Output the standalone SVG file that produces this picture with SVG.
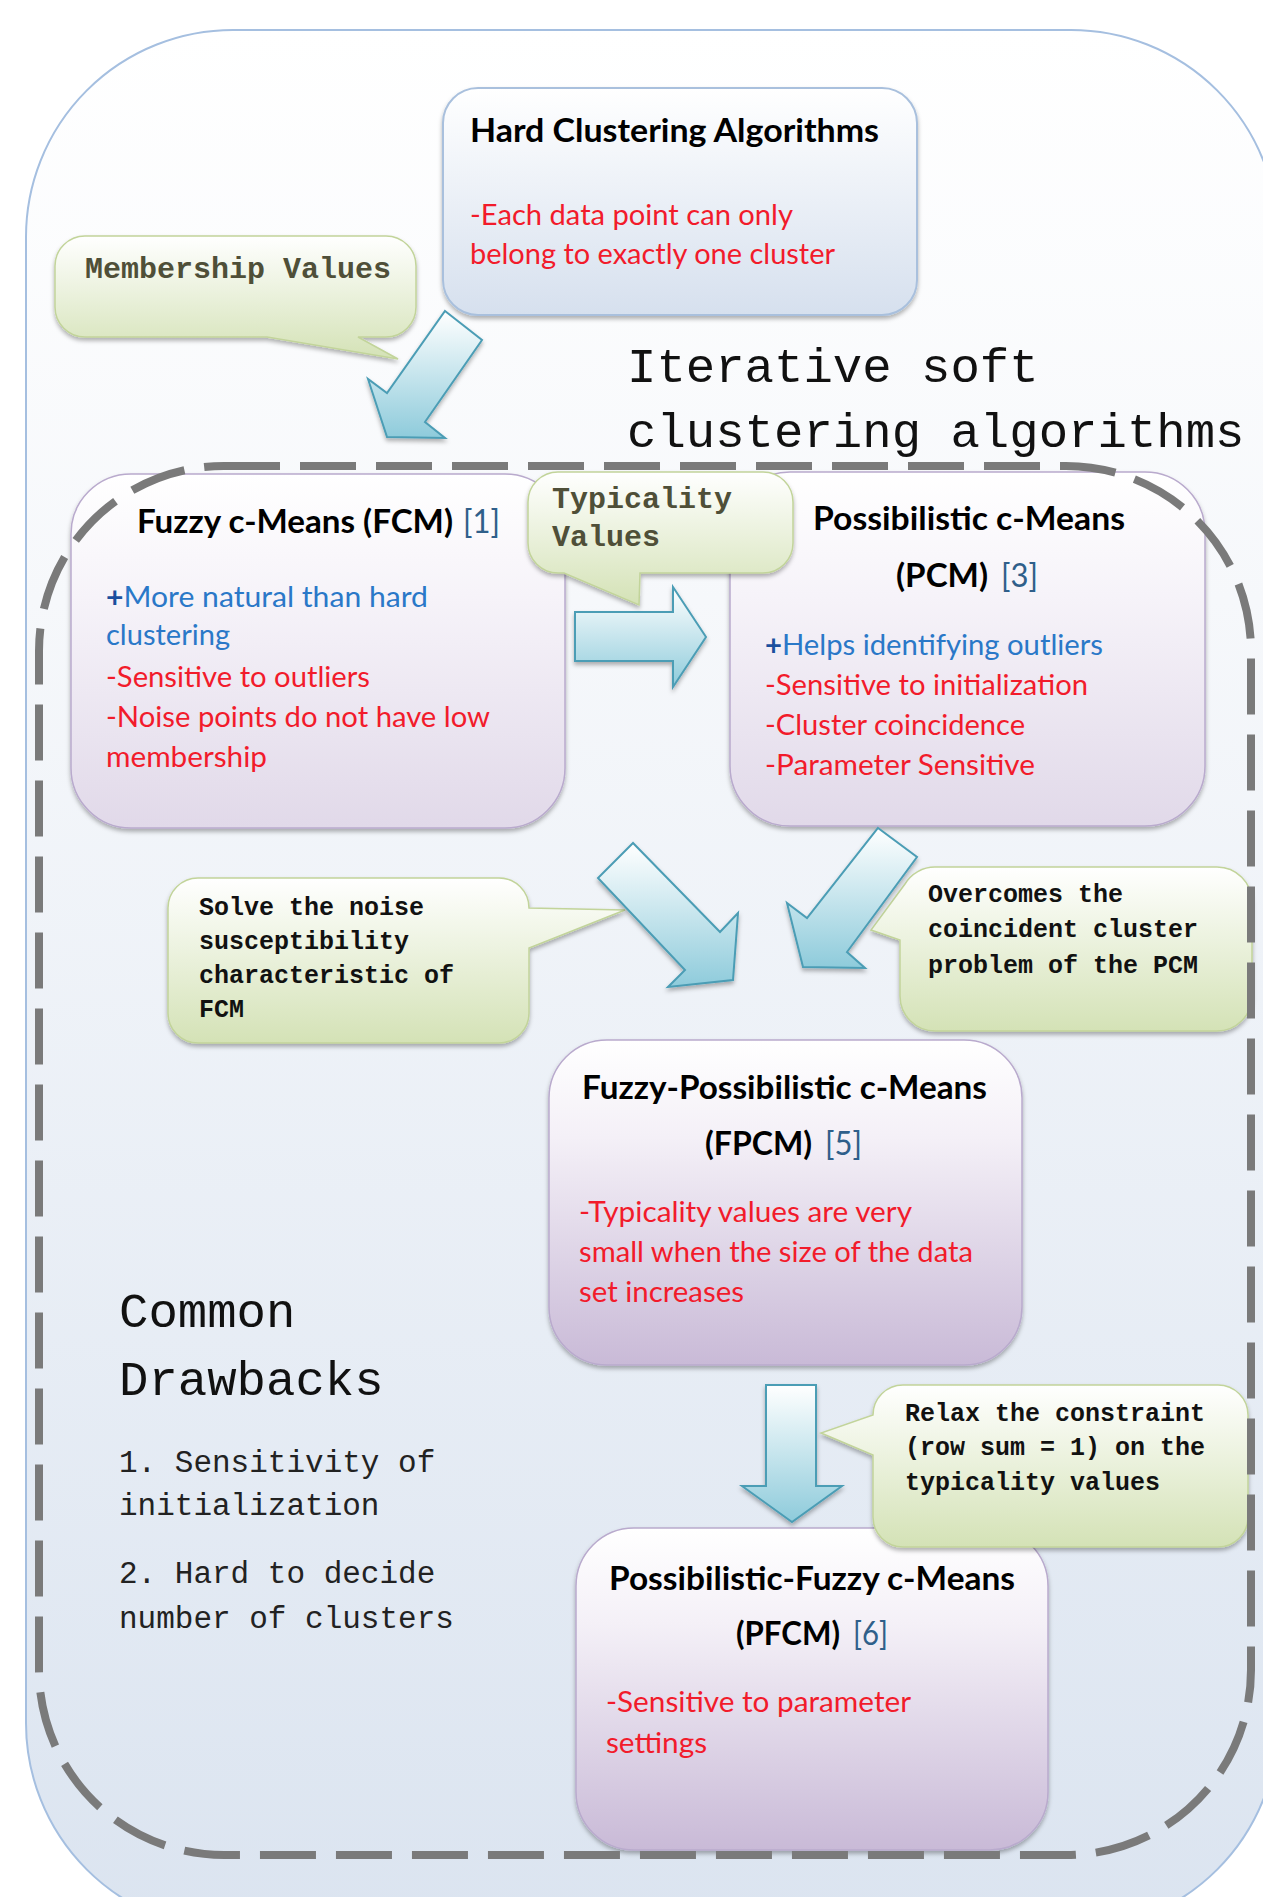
<svg xmlns="http://www.w3.org/2000/svg" width="1263" height="1897" viewBox="0 0 1263 1897">
<style>
.ttl{font-family:Lato,"Liberation Sans",sans-serif;font-weight:bold;font-size:33px;fill:#000}
.ref{font-family:Lato,"Liberation Sans",sans-serif;font-size:33px;fill:#2f5f8a}
.red{font-family:Lato,"Liberation Sans",sans-serif;font-size:29px;fill:#f21b2b}
.blue{font-family:Lato,"Liberation Sans",sans-serif;font-size:29px;fill:#2a78c8}
.plus{fill:#1b4f9e;font-weight:bold}
.mono{font-family:"Liberation Mono","Courier New",monospace}
.big{font-size:49px;fill:#111}
.lst{font-size:31px;fill:#222}
.cl{font-size:30px;font-weight:bold;fill:#4f4f38}
.cb{font-size:25px;font-weight:bold;fill:#111}
.box{filter:url(#sh)}
.arrow{fill:url(#gArrow);stroke:#4b9db5;stroke-width:2;stroke-linejoin:miter;filter:url(#sh)}
.callout{fill:url(#gGreen);stroke:#c2d49a;stroke-width:1.5;filter:url(#sh)}
</style>
<defs>
<linearGradient id="gOuter" x1="0" y1="0" x2="0" y2="1"><stop offset="0" stop-color="#ffffff"/><stop offset="0.3" stop-color="#f6f8fb"/><stop offset="1" stop-color="#dbe4f0"/></linearGradient>
<linearGradient id="gHard" x1="0" y1="0" x2="0" y2="1"><stop offset="0" stop-color="#ffffff"/><stop offset="1" stop-color="#d6e0ee"/></linearGradient>
<linearGradient id="gPurpA" x1="0" y1="0" x2="0" y2="1"><stop offset="0" stop-color="#ffffff"/><stop offset="0.35" stop-color="#f6f3f9"/><stop offset="1" stop-color="#e1d9e9"/></linearGradient>
<linearGradient id="gPurpB" x1="0" y1="0" x2="0" y2="1"><stop offset="0" stop-color="#ffffff"/><stop offset="0.3" stop-color="#f4f0f7"/><stop offset="1" stop-color="#c9bad7"/></linearGradient>
<linearGradient id="gGreen" x1="0" y1="0" x2="0" y2="1"><stop offset="0" stop-color="#ffffff"/><stop offset="1" stop-color="#d4e2b6"/></linearGradient>
<linearGradient id="gArrow" x1="0" y1="0" x2="0" y2="1"><stop offset="0" stop-color="#ffffff"/><stop offset="1" stop-color="#8ecbdb"/></linearGradient>
<filter id="sh" x="-10%" y="-10%" width="120%" height="125%"><feDropShadow dx="0" dy="3" stdDeviation="2" flood-color="#000" flood-opacity="0.3"/></filter>
</defs>

<g id="background">
<rect x="26" y="30" width="1252" height="1900" rx="207" ry="207" fill="url(#gOuter)" stroke="#a5bfe0" stroke-width="2"/>
</g>

<g id="node-hard">
<rect class="box" x="443" y="88" width="474" height="227" rx="35" fill="url(#gHard)" stroke="#a9c0dd" stroke-width="2"/>
<text class="ttl" x="470" y="142" textLength="409" lengthAdjust="spacingAndGlyphs">Hard Clustering Algorithms</text>
<text class="red" x="470" y="225" textLength="323" lengthAdjust="spacingAndGlyphs">-Each data point can only</text>
<text class="red" x="470" y="264" textLength="365" lengthAdjust="spacingAndGlyphs">belong to exactly one cluster</text>
</g>

<g id="node-fcm">
<rect class="box" x="71" y="474" width="494" height="354" rx="60" fill="url(#gPurpA)" stroke="#b9aacd" stroke-width="1.5"/>
<text class="ttl" x="137" y="533" textLength="316" lengthAdjust="spacingAndGlyphs">Fuzzy c-Means (FCM)</text>
<text class="ref" x="463" y="533" textLength="37" lengthAdjust="spacingAndGlyphs">[1]</text>
<text class="blue" x="106" y="607" textLength="322" lengthAdjust="spacingAndGlyphs"><tspan class="plus">+</tspan>More natural than hard</text>
<text class="blue" x="106" y="645" textLength="124" lengthAdjust="spacingAndGlyphs">clustering</text>
<text class="red" x="106" y="687" textLength="264" lengthAdjust="spacingAndGlyphs">-Sensitive to outliers</text>
<text class="red" x="106" y="727" textLength="384" lengthAdjust="spacingAndGlyphs">-Noise points do not have low</text>
<text class="red" x="106" y="767" textLength="161" lengthAdjust="spacingAndGlyphs">membership</text>
</g>

<g id="node-pcm">
<rect class="box" x="730" y="472" width="475" height="354" rx="60" fill="url(#gPurpA)" stroke="#b9aacd" stroke-width="1.5"/>
<text class="ttl" x="813" y="530" textLength="312" lengthAdjust="spacingAndGlyphs">Possibilistic c-Means</text>
<text class="ttl" x="896" y="587" textLength="92" lengthAdjust="spacingAndGlyphs">(PCM)</text>
<text class="ref" x="1001" y="587" textLength="37" lengthAdjust="spacingAndGlyphs">[3]</text>
<text class="blue" x="765" y="655" textLength="338" lengthAdjust="spacingAndGlyphs"><tspan class="plus">+</tspan>Helps identifying outliers</text>
<text class="red" x="765" y="695" textLength="323" lengthAdjust="spacingAndGlyphs">-Sensitive to initialization</text>
<text class="red" x="765" y="735" textLength="260" lengthAdjust="spacingAndGlyphs">-Cluster coincidence</text>
<text class="red" x="765" y="775" textLength="270" lengthAdjust="spacingAndGlyphs">-Parameter Sensitive</text>
</g>

<g id="node-fpcm">
<rect class="box" x="549" y="1040" width="473" height="325" rx="58" fill="url(#gPurpB)" stroke="#b9aacd" stroke-width="1.5"/>
<text class="ttl" x="582" y="1099" textLength="405" lengthAdjust="spacingAndGlyphs">Fuzzy-Possibilistic c-Means</text>
<text class="ttl" x="705" y="1155" textLength="107" lengthAdjust="spacingAndGlyphs">(FPCM)</text>
<text class="ref" x="825" y="1155" textLength="37" lengthAdjust="spacingAndGlyphs">[5]</text>
<text class="red" x="579" y="1222" textLength="333" lengthAdjust="spacingAndGlyphs">-Typicality values are very</text>
<text class="red" x="579" y="1262" textLength="394" lengthAdjust="spacingAndGlyphs">small when the size of the data</text>
<text class="red" x="579" y="1302" textLength="165" lengthAdjust="spacingAndGlyphs">set increases</text>
</g>

<g id="node-pfcm">
<rect class="box" x="576" y="1528" width="472" height="322" rx="58" fill="url(#gPurpB)" stroke="#b9aacd" stroke-width="1.5"/>
<text class="ttl" x="609" y="1590" textLength="406" lengthAdjust="spacingAndGlyphs">Possibilistic-Fuzzy c-Means</text>
<text class="ttl" x="736" y="1645" textLength="104" lengthAdjust="spacingAndGlyphs">(PFCM)</text>
<text class="ref" x="853" y="1645" textLength="35" lengthAdjust="spacingAndGlyphs">[6]</text>
<text class="red" x="606" y="1712" textLength="305" lengthAdjust="spacingAndGlyphs">-Sensitive to parameter</text>
<text class="red" x="606" y="1753" textLength="101" lengthAdjust="spacingAndGlyphs">settings</text>
</g>

<g id="callout-membership">
<path class="callout" d="M85,236 H386 A30,30 0 0 1 416,266 V307 A30,30 0 0 1 386,337 H358 L398,359 L267,337 H85 A30,30 0 0 1 55,307 V266 A30,30 0 0 1 85,236 Z"/>
<text class="mono cl" x="85" y="278">Membership Values</text>
</g>

<g id="callout-typicality">
<path class="callout" d="M558,472 H763 A30,30 0 0 1 793,502 V543 A30,30 0 0 1 763,573 H640 L639,605 L564,573 H558 A30,30 0 0 1 528,543 V502 A30,30 0 0 1 558,472 Z"/>
<text class="mono cl" x="552" y="508">Typicality</text>
<text class="mono cl" x="552" y="546">Values</text>
</g>

<g id="callout-solve">
<path class="callout" d="M198,878 H499 A30,30 0 0 1 529,908 L625,910 L529,948 V1013 A30,30 0 0 1 499,1043 H198 A30,30 0 0 1 168,1013 V908 A30,30 0 0 1 198,878 Z"/>
<text class="mono cb" x="199" y="915">Solve the noise</text>
<text class="mono cb" x="199" y="949">susceptibility</text>
<text class="mono cb" x="199" y="983">characteristic of</text>
<text class="mono cb" x="199" y="1017">FCM</text>
</g>

<g id="callout-overcomes">
<path class="callout" d="M935,867 H1217 A35,35 0 0 1 1252,902 V996 A35,35 0 0 1 1217,1031 H935 A35,35 0 0 1 900,996 V940 L871,930 L905,884 A35,35 0 0 1 935,867 Z"/>
<text class="mono cb" x="928" y="902">Overcomes the</text>
<text class="mono cb" x="928" y="937">coincident cluster</text>
<text class="mono cb" x="928" y="973">problem of the PCM</text>
</g>

<g id="callout-relax">
<path class="callout" d="M903,1385 H1218 A30,30 0 0 1 1248,1415 V1517 A30,30 0 0 1 1218,1547 H903 A30,30 0 0 1 873,1517 V1455 L821,1433 L873,1415 A30,30 0 0 1 903,1385 Z"/>
<text class="mono cb" x="905" y="1421">Relax the constraint</text>
<text class="mono cb" x="905" y="1455">(row sum = 1) on the</text>
<text class="mono cb" x="905" y="1490">typicality values</text>
</g>

<g id="note-drawbacks">
<text class="mono big" x="119" y="1327">Common</text>
<text class="mono big" x="119" y="1395">Drawbacks</text>
<text class="mono lst" x="119" y="1472">1. Sensitivity of</text>
<text class="mono lst" x="119" y="1515">initialization</text>
<text class="mono lst" x="119" y="1583">2. Hard to decide</text>
<text class="mono lst" x="119" y="1628">number of clusters</text>
</g>

<g id="connectors">
<polygon class="arrow" points="445,311 482,340 425,422 445,438 387,437 368,379 387,393"/>
<polygon class="arrow" points="575,612 673,612 673,587 706,637 673,687 673,661 575,661"/>
<polygon class="arrow" points="633,843 598,878 685,970 668,987 733,980 738,913 720,932"/>
<polygon class="arrow" points="878,828 917,857 847,952 865,968 803,967 787,903 807,918"/>
<polygon class="arrow" points="766,1385 816,1385 816,1486 842,1486 792,1522 742,1486 766,1486"/>
</g>

<g id="group-iterative">
<rect x="39" y="466" width="1212" height="1389" rx="185" ry="185" fill="none" stroke="#7a7a7a" stroke-width="8" stroke-dasharray="56 20"/>
<text class="mono big" x="627" y="382">Iterative soft</text>
<text class="mono big" x="627" y="447">clustering algorithms</text>
</g>
</svg>
